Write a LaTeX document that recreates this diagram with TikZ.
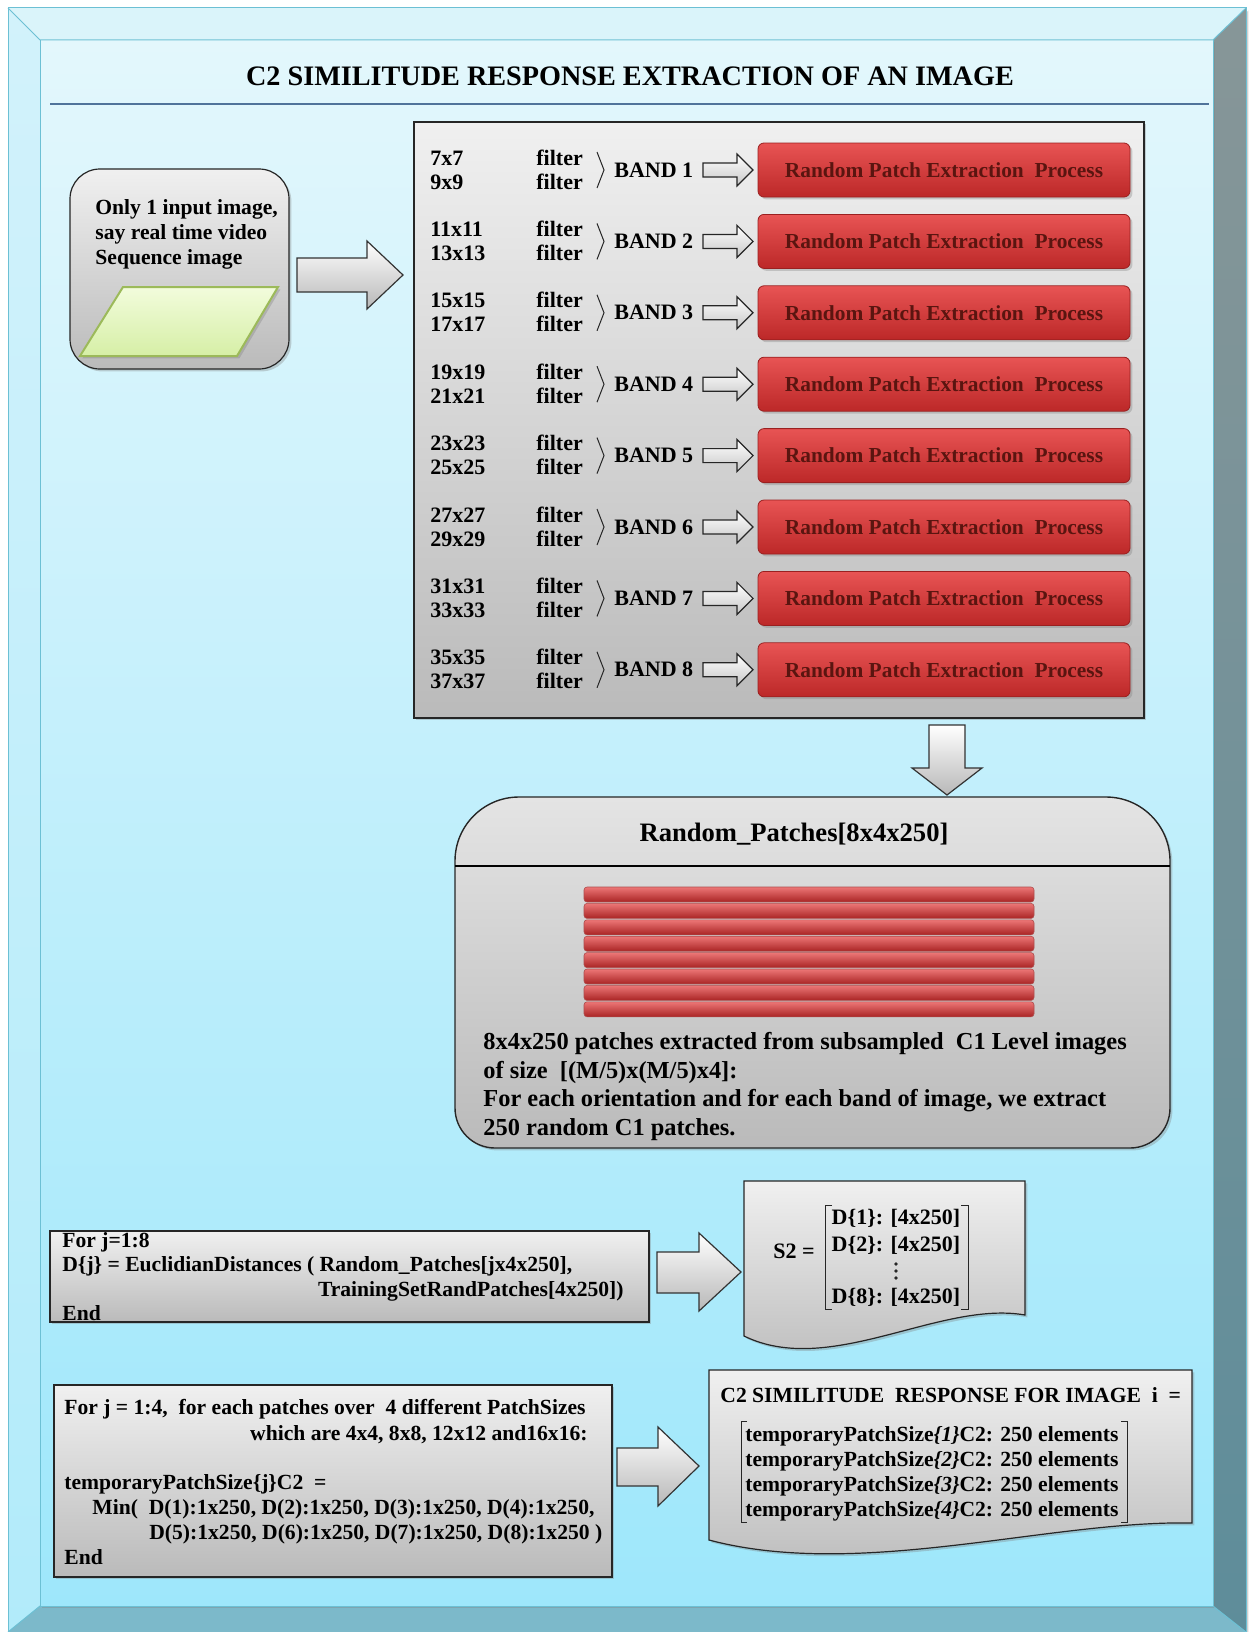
\documentclass[tikz,border=0pt]{standalone}
\usepackage{amsmath}
\usepackage{fontspec}
\setmainfont{Liberation Serif}
\usetikzlibrary{shadows}

\definecolor{bevTop}{HTML}{DAF4FA}
\definecolor{bevLeftA}{HTML}{D2F2FB}
\definecolor{bevLeftB}{HTML}{B2EBFA}
\definecolor{bevRightA}{HTML}{879698}
\definecolor{bevRightB}{HTML}{5E8D9A}
\definecolor{bevBottom}{HTML}{7CB9CA}
\definecolor{frameLine}{HTML}{6CC0D4}
\definecolor{panelTop}{HTML}{E3F7FC}
\definecolor{panelBot}{HTML}{9EE7FB}
\definecolor{ruleBlue}{HTML}{50739A}
\definecolor{grayTop}{HTML}{F0F0F0}
\definecolor{grayBot}{HTML}{BABABA}
\definecolor{redTop}{HTML}{E85454}
\definecolor{redBot}{HTML}{BC2828}
\definecolor{redLine}{HTML}{9A2020}
\definecolor{redText}{HTML}{5A1510}
\definecolor{greenTop}{HTML}{F2FCDC}
\definecolor{greenBot}{HTML}{D6EFA6}
\definecolor{greenLine}{HTML}{9CBA5A}

\newcommand\setfs[2]{\fontsize{#1}{#2}\selectfont}

\begin{document}
\begin{tikzpicture}[x=0.5pt,y=-0.5pt,
  shade/.style={drop shadow={shadow xshift=1.2pt,shadow yshift=-1.2pt,opacity=0.35}},
  graybox/.style={draw=black!85,line width=0.6pt,top color=grayTop,bottom color=grayBot,shade},
  blockarrow/.style={draw=black!80,line width=0.6pt,top color=white,bottom color=black!28},
  hollowarrow/.style={draw=black!85,line width=0.6pt,top color=white,bottom color=black!22},
  redbox/.style={draw=redLine,line width=0.4pt,top color=redTop,bottom color=redBot,
    rounded corners=3pt,minimum width=186pt,minimum height=27pt,inner sep=0pt,
    text=redText,font=\bfseries\setfs{10.7}{12},shade},
  bandtxt/.style={font=\bfseries\setfs{11}{12},inner sep=0pt,anchor=base west},
  codetxt/.style={font=\bfseries\setfs{10.8}{12.5},inner sep=0pt,anchor=base west},
  bar/.style={draw=redLine!80,line width=0.3pt,rounded corners=1.5pt,
    top color=redTop!80!white,bottom color=redBot!90!black},
  docshape/.style={draw=black!85,line width=0.6pt,top color=grayTop,bottom color=grayBot,shade},
  bracket/.style={draw=black!85,line width=0.5pt}]

\useasboundingbox (0,0) rectangle (1254,1632);

% ---------- bevelled frame ----------
\fill[white] (0,0) rectangle (1254,1632);
\fill[bevTop] (8,8) -- (1246,8) -- (1213,40) -- (40,40) -- cycle;
\shade[top color=bevLeftA,bottom color=bevLeftB] (8,8) -- (40,40) -- (40,1606) -- (8,1632) -- cycle;
\shade[top color=bevRightA,bottom color=bevRightB] (1246,8) -- (1246,1632) -- (1213,1606) -- (1213,40) -- cycle;
\fill[bevBottom] (8,1632) -- (40,1606) -- (1213,1606) -- (1246,1632) -- cycle;
\shade[top color=panelTop,bottom color=panelBot] (40,40) rectangle (1213,1606);
\draw[frameLine,line width=0.5pt] (8,1632) -- (8,8) -- (1246,8) -- (1246,1632);
\draw[frameLine,line width=0.5pt] (8,8) -- (40,40) -- (1213,40) -- (1246,8);
\draw[frameLine,line width=0.5pt] (40,40) -- (40,1606) -- (1213,1606) -- (1213,40);
\draw[frameLine,line width=0.5pt] (8,1632) -- (40,1606) (1213,1606) -- (1246,1632);

% ---------- title ----------
\node[font=\bfseries\setfs{14.1}{16},inner sep=0pt] (title) at (630,76)
  {C2 SIMILITUDE RESPONSE EXTRACTION OF AN IMAGE};
\draw[ruleBlue,line width=0.7pt] (50,104) -- (1209,104);

% ---------- input image ----------
\node[graybox,rounded corners=15pt,minimum width=109.5pt,minimum height=100pt,inner sep=0pt]
  (input) at (179.5,269) {};
\node[font=\bfseries\setfs{10.8}{12.5},align=left,anchor=north west,inner sep=0pt]
  (inputtxt) at (95,199) {Only 1 input image,\\say real time video\\Sequence image};
\shade[draw=greenLine,line width=1pt,top color=greenTop,bottom color=greenBot]
  (123,287) -- (278,287) -- (237,356) -- (80,356) -- cycle;

% ---------- arrow into the filter bank ----------
\draw[blockarrow] (297,258) -- (367,258) -- (367,241) -- (403,275) -- (367,309) -- (367,292) -- (297,292) -- cycle;

% ---------- filter bank ----------
\node[graybox,minimum width=365pt,minimum height=298pt,inner sep=0pt] (bank) at (779,420) {};

\foreach \i/\a/\b in {1/7x7/9x9,2/11x11/13x13,3/15x15/17x17,4/19x19/21x21,
                      5/23x23/25x25,6/27x27/29x29,7/31x31/33x33,8/35x35/37x37}{
  \pgfmathsetmacro\yy{170+71.4*(\i-1)}
  \node[bandtxt] (sa\i) at (430,\yy-5) {\a};
  \node[bandtxt] (sb\i) at (430,\yy+19) {\b};
  \node[bandtxt] (fa\i) at (536,\yy-5) {filter};
  \node[bandtxt] (fb\i) at (536,\yy+19) {filter};
  \draw[black!85,line width=0.5pt] (597,\yy-18) -- (604,\yy) -- (597,\yy+18);
  \node[bandtxt] (band\i) at (614,\yy+7) {BAND \i};
  \node[redbox] (rb\i) at (944,\yy) {Random Patch Extraction\ \ Process};
  \draw[hollowarrow] (703,\yy-7) -- (737,\yy-7) -- (737,\yy-16) -- (753,\yy)
    -- (737,\yy+16) -- (737,\yy+7) -- (703,\yy+7) -- cycle;
}

% ---------- arrow down to the patch store ----------
\draw[blockarrow] (929,725) -- (965,725) -- (965,768) -- (982,768) -- (947,795)
  -- (912,768) -- (929,768) -- cycle;

% ---------- random patches store ----------
\path[draw=black!85,line width=0.7pt,top color=grayTop!95!black,bottom color=grayBot,shade]
  (455,1000) [rounded corners=32pt] -- (455,797) -- (1170,797) -- (1170,1000)
  [rounded corners=20pt] -- (1170,1148) -- (455,1148) -- cycle;
\node[inner sep=0pt,minimum width=357.5pt,minimum height=175.5pt] (rp) at (812.5,972.5) {};
\draw[black,line width=1.1pt] (455,866) -- (1170,866);
\node[font=\bfseries\setfs{13.3}{15},inner sep=0pt] (rptitle) at (794,834) {Random\_Patches[8x4x250]};
\foreach \k in {0,...,7}{
  \pgfmathsetmacro\ty{887+16.4*\k}
  \draw[bar] (584,\ty) rectangle (1034,\ty+15);
}
\node[font=\bfseries\setfs{12.2}{14.3},align=left,anchor=north west,inner sep=0pt]
  (rptxt) at (483,1032)
  {8x4x250 patches extracted from subsampled\ \ C1 Level images\\
   of size\ \ [(M/5)x(M/5)x4]:\\
   For each orientation and for each band of image, we extract\\
   250 random C1 patches.};

% ---------- distance computation ----------
\node[graybox,minimum width=299.5pt,minimum height=45.5pt,inner sep=0pt] (code1) at (349.5,1276.5) {};
\node[codetxt] (c1l1) at (62,1247) {For j=1:8};
\node[codetxt] (c1l2) at (62,1271) {D\{j\} = EuclidianDistances ( Random\_Patches[jx4x250],};
\node[codetxt,anchor=base east] (c1l3) at (624,1296) {TrainingSetRandPatches[4x250])};
\node[codetxt] (c1l4) at (62,1320) {End};
\draw[black!85,line width=0.6pt] (code1.north west) rectangle (code1.south east);

\draw[blockarrow] (657,1252) -- (699,1252) -- (699,1233) -- (741,1272) -- (699,1311)
  -- (699,1293) -- (657,1293) -- cycle;

\path[docshape] (744,1181) -- (1025,1181) -- (1025,1315)
  .. controls (940,1300) and (830,1378) .. (744,1336) -- cycle;
% S2 column of distance matrices
\node[font=\bfseries\setfs{11}{12.5},inner sep=0pt] (s2eq) at (794,1251) {S2 =};
\node[font=\bfseries\setfs{11}{12.5},inner sep=0pt] (s2r1) at (896,1218) {D\{1\}: [4x250]};
\node[font=\bfseries\setfs{11}{12.5},inner sep=0pt] (s2r2) at (896,1245) {D\{2\}: [4x250]};
\node[font=\bfseries\setfs{11}{12.5},inner sep=0pt] (s2r8) at (896,1297) {D\{8\}: [4x250]};
\foreach \dy in {1264,1271,1278} \fill[black!85] (896,\dy) circle (0.9pt);
\draw[bracket] (832,1205) -- (825,1205) -- (825,1309) -- (832,1309);
\draw[bracket] (961,1205) -- (968,1205) -- (968,1309) -- (961,1309);

% ---------- C2 response ----------
\node[graybox,minimum width=279pt,minimum height=96pt,inner sep=0pt] (code2) at (333,1481) {};
\node[codetxt] (c2l1) at (64,1414) {For j = 1:4,\ \ for each patches over\ \ 4 different PatchSizes};
\node[codetxt,anchor=base east] (c2l2) at (588,1440) {which are 4x4, 8x8, 12x12 and16x16:};
\node[codetxt] (c2l3) at (64,1489) {temporaryPatchSize\{j\}C2\ \ =};
\node[codetxt] (c2l4) at (92,1514) {Min(\ \ D(1):1x250, D(2):1x250, D(3):1x250, D(4):1x250,};
\node[codetxt] (c2l5) at (149,1539) {D(5):1x250, D(6):1x250, D(7):1x250, D(8):1x250 )};
\node[codetxt] (c2l6) at (64,1564) {End};

\draw[blockarrow] (617,1448) -- (658,1448) -- (658,1427) -- (699,1466) -- (658,1506)
  -- (658,1486) -- (617,1486) -- cycle;

\path[docshape] (709,1370) -- (1192,1370) -- (1192,1523)
  .. controls (1050,1520) and (860,1580) .. (709,1540) -- cycle;
\node[codetxt] (c2head) at (720,1402) {C2 SIMILITUDE\ \ RESPONSE FOR IMAGE\ \ i\ \ =};
% column of per-size C2 responses
\foreach \r/\yr in {1/1441,2/1466,3/1491,4/1516}
  \node[codetxt] (c2r\r) at (745,\yr) {temporaryPatchSize\textit{\{\r\}}C2: 250 elements};
\draw[bracket] (747,1421) -- (741,1421) -- (741,1522) -- (747,1522);
\draw[bracket] (1121,1421) -- (1127,1421) -- (1127,1522) -- (1121,1522);

\end{tikzpicture}
\end{document}
